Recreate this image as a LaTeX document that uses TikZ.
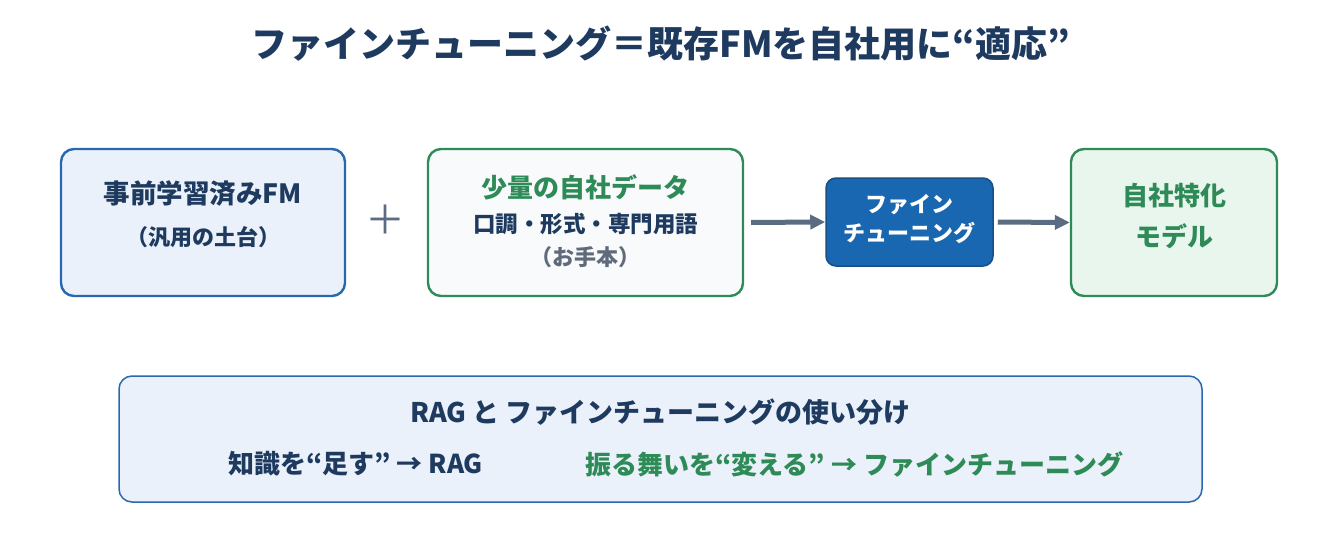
\documentclass[tikz,border=0pt]{standalone}
\usepackage{fontspec}
\setmainfont{Noto Sans CJK JP}
\usetikzlibrary{arrows.meta}
\definecolor{navy}{HTML}{1E3A5F}
\definecolor{grn}{HTML}{2E8B57}
\definecolor{bborder}{HTML}{2A68AE}
\definecolor{bfill}{HTML}{EAF1FA}
\definecolor{wfill}{HTML}{F8FAFC}
\definecolor{gfill}{HTML}{E8F6EE}
\definecolor{ftfill}{HTML}{1A67B1}
\definecolor{ftborder}{HTML}{174E86}
\definecolor{arrgray}{HTML}{5B6B82}
\definecolor{subgray}{HTML}{5F6B7A}
\tikzset{
  card/.style={rectangle, rounded corners=13pt, line width=2.4pt, inner sep=0pt},
  txt/.style={inner sep=0pt, font=\bfseries},
  flow/.style={draw=arrgray, line width=5pt, -{Triangle[length=15pt,width=14pt]}},
}
\newcommand{\fs}[1]{\fontsize{#1}{#1}\selectfont}
\begin{document}
\begin{tikzpicture}[x=1pt,y=-1pt]
\useasboundingbox[fill=white] (0,0) rectangle (1320,552);
\node[txt, text=navy] (title) at (661,44) {\fs{36}ファインチューニング＝既存FMを自社用に“適応”};

\node[card, draw=bborder, fill=bfill, minimum width=284pt, minimum height=147pt] (b1) at (203,222.5) {};
\node[txt, text=navy] (b1a) at (203,193) {\fs{26.5}事前学習済みFM};
\node[txt, text=navy] (b1b) at (203,237) {\fs{22}（汎用の土台）};

\node[txt, text=arrgray, font=\normalfont] (plus) at (385,220) {\fs{40}＋};

\node[card, draw=grn, fill=wfill, minimum width=315pt, minimum height=147pt] (b2) at (585.5,222.5) {};
\node[txt, text=grn] (b2a) at (585.5,187) {\fs{26}少量の自社データ};
\node[txt, text=navy] (b2b) at (585.5,224) {\fs{22.5}口調・形式・専門用語};
\node[txt, text=subgray] (b2c) at (585.5,257) {\fs{22}（お手本）};

\node[card, draw=ftborder, fill=ftfill, line width=1.5pt, rounded corners=10pt, minimum width=167pt, minimum height=88pt] (b3) at (909.5,222) {};
\node[txt, text=white] (b3a) at (909.5,205) {\fs{22}ファイン};
\node[txt, text=white] (b3b) at (909.5,233) {\fs{22}チューニング};

\node[card, draw=grn, fill=gfill, minimum width=206pt, minimum height=147pt] (b4) at (1174,222.5) {};
\node[txt, text=grn] (b4a) at (1174,196) {\fs{26}自社特化};
\node[txt, text=grn] (b4b) at (1174,236) {\fs{26}モデル};

\draw[flow, shorten <=7pt] (b2.east) -- (b3.west);
\draw[flow, shorten <=4pt] (b3.east) -- (b4.west);

\node[card, draw=bborder, fill=bfill, line width=1.5pt, minimum width=1083pt, minimum height=126pt] (b5) at (660.5,439) {};
\node[txt, text=navy] (b5a) at (660.5,412) {\fs{27}RAG と ファインチューニングの使い分け};
\node[txt, text=navy, anchor=west] (b5b) at (228,464) {\fs{26}知識を“足す” → RAG};
\node[txt, text=grn, anchor=west] (b5c) at (585,464) {\fs{26}振る舞いを“変える” → ファインチューニング};
\end{tikzpicture}
\end{document}
